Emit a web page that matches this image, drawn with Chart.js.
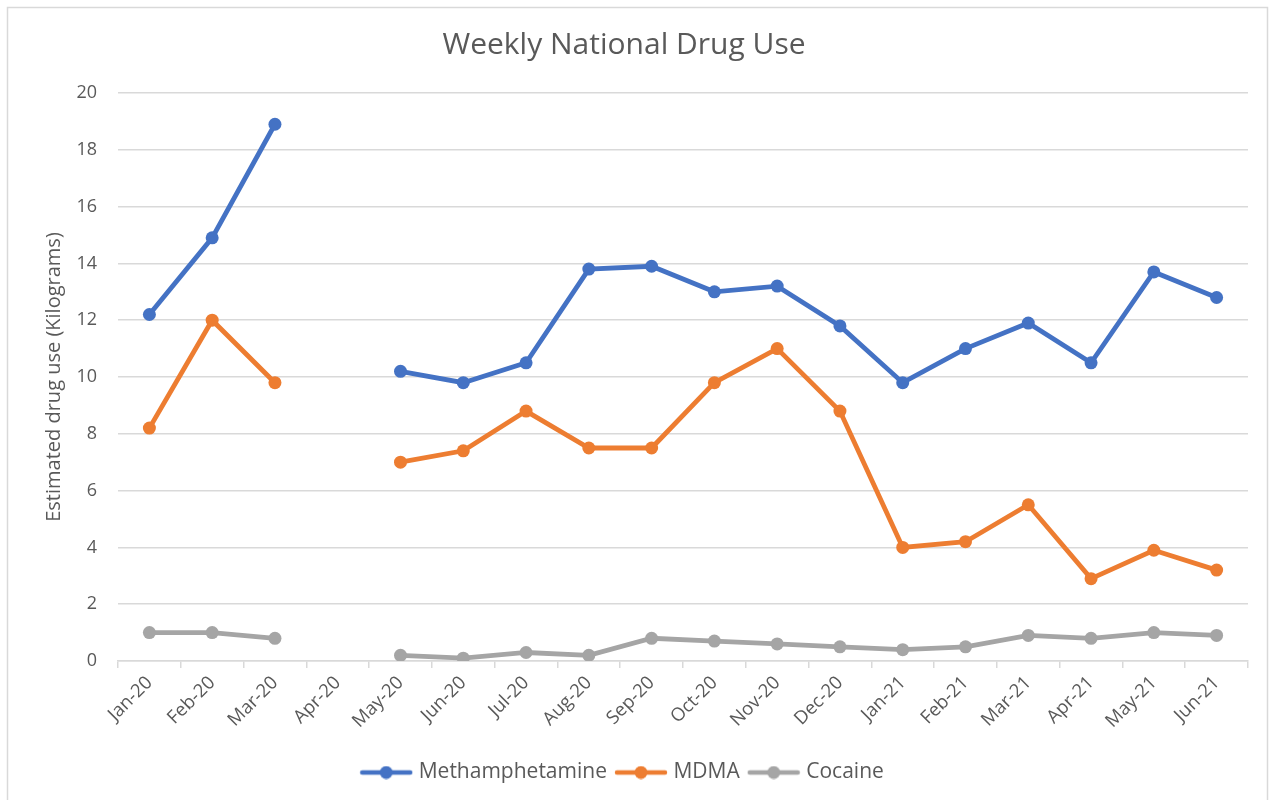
<!DOCTYPE html>
<html>
<head>
<meta charset="utf-8">
<title>Weekly National Drug Use</title>
<script src="https://cdn.jsdelivr.net/npm/chart.js@4.4.0/dist/chart.umd.min.js"></script>
<style>
  html, body { margin: 0; padding: 0; background: #fff; }
  #wrap { width: 1275px; height: 800px; }
</style>
</head>
<body>
<div id="wrap"><canvas id="drugChart" width="1275" height="800"></canvas></div>
<script>
var months = ["Jan-20", "Feb-20", "Mar-20", "Apr-20", "May-20", "Jun-20", "Jul-20", "Aug-20", "Sep-20",
  "Oct-20", "Nov-20", "Dec-20", "Jan-21", "Feb-21", "Mar-21", "Apr-21", "May-21", "Jun-21"];

// kilograms per week, no sample for Apr-20
var meth = [12.2, 14.9, 18.9, null, 10.2, 9.8, 10.5, 13.8, 13.9, 13.0, 13.2, 11.8, 9.8, 11.0, 11.9, 10.5, 13.7, 12.8];
var mdma = [8.2, 12.0, 9.8, null, 7.0, 7.4, 8.8, 7.5, 7.5, 9.8, 11.0, 8.8, 4.0, 4.2, 5.5, 2.9, 3.9, 3.2];
var cocaine = [1.0, 1.0, 0.8, null, 0.2, 0.1, 0.3, 0.2, 0.8, 0.7, 0.6, 0.5, 0.4, 0.5, 0.9, 0.8, 1.0, 0.9];

var yTicks = [0, 2, 4, 6, 8, 10, 12, 14, 16, 18, 20];

var textGrey = "#595959";
var fontFam = "'Open Sans', sans-serif";

// little line-with-dot swatch for the legend
function swatch(color) {
  var c = document.createElement("canvas");
  c.width = 54; c.height = 14;
  var g = c.getContext("2d");
  g.strokeStyle = color;
  g.lineWidth = 4.5;
  g.lineCap = "round";
  g.beginPath(); g.moveTo(3, 7); g.lineTo(51, 7); g.stroke();
  g.fillStyle = color;
  g.beginPath(); g.arc(27, 7, 6.5, 0, Math.PI * 2); g.fill();
  return c;
}

function series(label, data, color) {
  return {
    label: label,
    data: data,
    borderColor: color,
    backgroundColor: color,
    borderWidth: 4.8,
    pointRadius: 6.5,
    pointHoverRadius: 7,
    pointBackgroundColor: color,
    pointBorderWidth: 0,
    spanGaps: false,
    tension: 0,
    pointStyle: "circle",
    legendSwatch: swatch(color)
  };
}

var framePlugin = {
  id: "frame",
  beforeDraw: function(chart) {
    var c = chart.ctx;
    c.save();
    c.fillStyle = "#fff";
    c.fillRect(0, 0, chart.width, chart.height);
    c.strokeStyle = "#d9d9d9";
    c.lineWidth = 1.5;
    c.strokeRect(7.5, 7.5, 1260, 820);
    c.restore();
  }
};

var ctx = document.getElementById("drugChart").getContext("2d");
var drugChart = new Chart(ctx, {
  type: "line",
  data: {
    labels: months,
    datasets: [
      series("Methamphetamine", meth, "#4472C4"),
      series("MDMA", mdma, "#ED7D31"),
      series("Cocaine", cocaine, "#A5A5A5")
    ]
  },
  options: {
    responsive: false,
    animation: false,
    layout: { padding: { top: 12, right: 27, bottom: 7, left: 0 } },
    plugins: {
      title: {
        display: true,
        text: "Weekly National Drug Use",
        color: textGrey,
        font: { family: fontFam, size: 30, weight: "normal" },
        padding: { top: 15, bottom: 30 }
      },
      legend: {
        position: "bottom",
        labels: {
          usePointStyle: true,
          pointStyleWidth: 44,
          color: textGrey,
          font: { family: fontFam, size: 21 },
          padding: 12,
          generateLabels: function(chart) {
            return chart.data.datasets.map(function(ds, i) {
              return {
                text: ds.label,
                pointStyle: ds.legendSwatch,
                fillStyle: ds.borderColor,
                strokeStyle: ds.borderColor,
                lineWidth: 0,
                fontColor: textGrey,
                hidden: !chart.isDatasetVisible(i),
                datasetIndex: i
              };
            });
          }
        }
      },
      tooltip: { enabled: true }
    },
    scales: {
      x: {
        type: "category",
        offset: true,
        afterFit: function(scale) { scale.height = 89; },
        grid: {
          offset: true,
          drawOnChartArea: false,
          drawTicks: true,
          tickLength: 7,
          color: "#d9d9d9",
          lineWidth: 1.5
        },
        border: { display: true, color: "#d9d9d9", width: 1.5 },
        ticks: {
          color: textGrey,
          font: { family: fontFam, size: 18.5 },
          maxRotation: 45,
          minRotation: 45,
          autoSkip: false,
          padding: 4
        }
      },
      y: {
        min: 0,
        max: 20,
        afterFit: function(scale) { scale.width = 118; },
        afterBuildTicks: function(scale) {
          scale.ticks = yTicks.map(function(v) { return { value: v }; });
        },
        grid: { color: "#d9d9d9", lineWidth: 1.5, drawTicks: false },
        border: { display: false },
        ticks: {
          color: textGrey,
          font: { family: fontFam, size: 18 },
          padding: 21
        },
        title: {
          display: true,
          text: "Estimated drug use (Kilograms)",
          color: textGrey,
          font: { family: fontFam, size: 20 },
          padding: { top: 42, bottom: 0 }
        }
      }
    }
  },
  plugins: [framePlugin]
});
</script>
</body>
</html>
